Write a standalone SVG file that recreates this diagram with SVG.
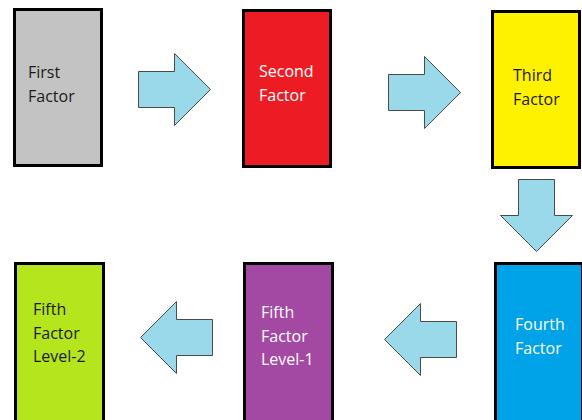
<svg xmlns="http://www.w3.org/2000/svg" width="582" height="420" viewBox="0 0 582 420">
<style>
.box{stroke:#000;stroke-width:3}
.arrow{fill:#99d9ea;stroke:#4a4a4a;stroke-width:1;stroke-linejoin:miter}
text{font-family:"Open Sans","Liberation Sans",sans-serif;font-size:16px}
.dark{fill:#1a1a1a}
.light{fill:#ffffff}
</style>
<rect width="582" height="420" fill="#ffffff"/>
<g id="first">
<rect class="box" x="14.5" y="9.5" width="87" height="156" fill="#c3c3c3"/>
<text class="dark" x="28" y="78">First</text>
<text class="dark" x="28" y="101.5">Factor</text>
</g>
<g id="second">
<rect class="box" x="243.5" y="10.5" width="87" height="156" fill="#ed1c24"/>
<text class="light" x="259" y="77">Second</text>
<text class="light" x="259" y="100.5">Factor</text>
</g>
<g id="third">
<rect class="box" x="492.5" y="11.5" width="87" height="156" fill="#fff200"/>
<text class="dark" x="513" y="81">Third</text>
<text class="dark" x="513" y="104.5">Factor</text>
</g>
<g id="fourth">
<rect class="box" x="495.5" y="263.5" width="87" height="170" fill="#00a2e8"/>
<text class="light" x="515" y="330">Fourth</text>
<text class="light" x="515" y="353.5">Factor</text>
</g>
<g id="fifth1">
<rect class="box" x="244.5" y="263.5" width="88" height="170" fill="#a349a4"/>
<text class="light" x="261" y="318">Fifth</text>
<text class="light" x="261" y="341.5">Factor</text>
<text class="light" x="261" y="365">Level-1</text>
</g>
<g id="fifth2">
<rect class="box" x="15.5" y="263.5" width="88" height="170" fill="#b5e61d"/>
<text class="dark" x="33" y="315">Fifth</text>
<text class="dark" x="33" y="338.5">Factor</text>
<text class="dark" x="33" y="362">Level-2</text>
</g>
<g id="connectors">
<polygon class="arrow" points="138.5,71.5 174.5,71.5 174.5,53.5 210.5,89.5 174.5,125.5 174.5,107.5 138.5,107.5"/>
<polygon class="arrow" points="388.5,74.5 424.5,74.5 424.5,56.5 460.5,92.5 424.5,128.5 424.5,110.5 388.5,110.5"/>
<polygon class="arrow" points="518.5,179.5 554.5,179.5 554.5,215.5 572.5,215.5 536.5,251.5 500.5,215.5 518.5,215.5"/>
<polygon class="arrow" points="456.5,321.5 420.5,321.5 420.5,303.5 384.5,339.5 420.5,375.5 420.5,357.5 456.5,357.5"/>
<polygon class="arrow" points="212.5,319.5 176.5,319.5 176.5,301.5 140.5,337.5 176.5,373.5 176.5,355.5 212.5,355.5"/>
</g>
</svg>
